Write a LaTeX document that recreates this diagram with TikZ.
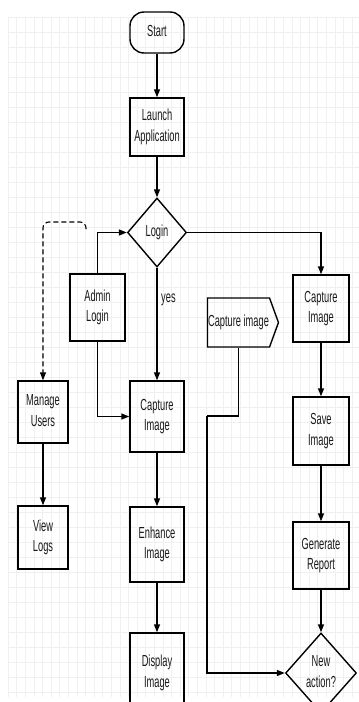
\documentclass[tikz,border=0pt]{standalone}
\usepackage{fontspec}
\setmainfont{Liberation Sans}
\usetikzlibrary{shapes.geometric,shapes.symbols,arrows.meta}
\newcommand{\sqtext}[1]{\scalebox{0.58}[1]{\begin{tabular}{@{}c@{}}#1\end{tabular}}}
\begin{document}
\begin{tikzpicture}[x=1pt,y=-1pt,
  every node/.style={font=\fontsize{16}{20.5}\selectfont, inner sep=0pt, text=black!90},
  box/.style={draw, line width=1.4pt, minimum width=54pt, align=center},
  dia/.style={draw, diamond, line width=1.4pt, align=center},
  conn/.style={line width=1.4pt, -{Triangle[length=8pt,width=6pt]}},
  plain/.style={line width=1.4pt},
  gridline/.style={line width=0.6pt, black!6}]
\useasboundingbox (0,0) rectangle (359,702);
\clip (0,0) rectangle (359,702);
\fill[white] (0,0) rectangle (359,702);
% grid
\foreach \i in {0,...,40} \draw[gridline] (8+8.6*\i,17) -- (8+8.6*\i,697);
\foreach \j in {0,...,45} \draw[gridline] (8,17+15*\j) -- (359,17+15*\j);
% nodes
\node[box, rounded corners=14pt, minimum height=41pt] (start) at (157,32.5) {\sqtext{Start}};
\node[box, minimum height=58pt] (launch) at (157,127) {\sqtext{Launch\\Application}};
\node[dia, minimum width=59pt, minimum height=69pt] (login) at (157,232.5) {\sqtext{Login}};
\node[box, minimum width=55pt, minimum height=67pt] (admin) at (97.5,307.5) {\sqtext{Admin\\Login}};
\node[box, minimum height=71pt] (cap1) at (157,416.5) {\sqtext{Capture\\Image}};
\node[box, minimum height=75pt] (enh) at (157,544.5) {\sqtext{Enhance\\Image}};
\node[box, minimum height=80pt] (disp) at (157,673) {\sqtext{Display\\Image}};
\node[box, minimum width=50pt, minimum height=62pt] (mu) at (43,412) {\sqtext{Manage\\Users}};
\node[box, minimum width=50pt, minimum height=63pt] (vl) at (43,537.5) {\sqtext{View\\Logs}};
\node[draw, signal, signal to=east, signal pointer angle=140, line width=1.4pt, minimum width=71pt, minimum height=49pt] (sig) at (238.5,322.5) {\sqtext{Capture image}};
\node[box, minimum width=56pt, minimum height=67pt] (cap2) at (321,308.5) {\sqtext{Capture\\Image}};
\node[box, minimum width=56pt, minimum height=68pt] (save) at (321,431) {\sqtext{Save\\Image}};
\node[box, minimum width=56pt, minimum height=67pt] (rep) at (321,555.5) {\sqtext{Generate\\Report}};
\node[dia, minimum width=56pt, minimum height=80pt] (newact) at (321,673) {\sqtext{New\\action?}};
\coordinate (d0) at (86,229);
\coordinate (d1) at (43,222);
\coordinate (c1) at (207,416);
% connectors
\draw[conn] (start) -- (launch);
\draw[conn] (launch) -- (login);
\draw[conn] (login.east) -| (cap2.north);
\draw[conn] (cap2) -- (save);
\draw[conn] (save) -- (rep);
\draw[conn] (rep) -- (newact);
\draw[conn] (admin.north) |- (login.west);
\draw[conn] (admin.south) |- (cap1.west);
\draw[conn] (login.south) -- node[pos=0.27, anchor=west, xshift=3.5pt] {\sqtext{yes}} (cap1.north);
\draw[conn] (cap1) -- (enh);
\draw[conn] (enh) -- (disp);
\draw[conn, line width=1.1pt, dash pattern=on 5pt off 3pt, rounded corners=6pt] (d0) |- (d1) -- (mu.north);
\draw[conn] (mu) -- (vl);
\draw[plain] (sig.south) |- (c1);
\draw[conn] (c1) |- (newact.west);
\end{tikzpicture}
\end{document}
